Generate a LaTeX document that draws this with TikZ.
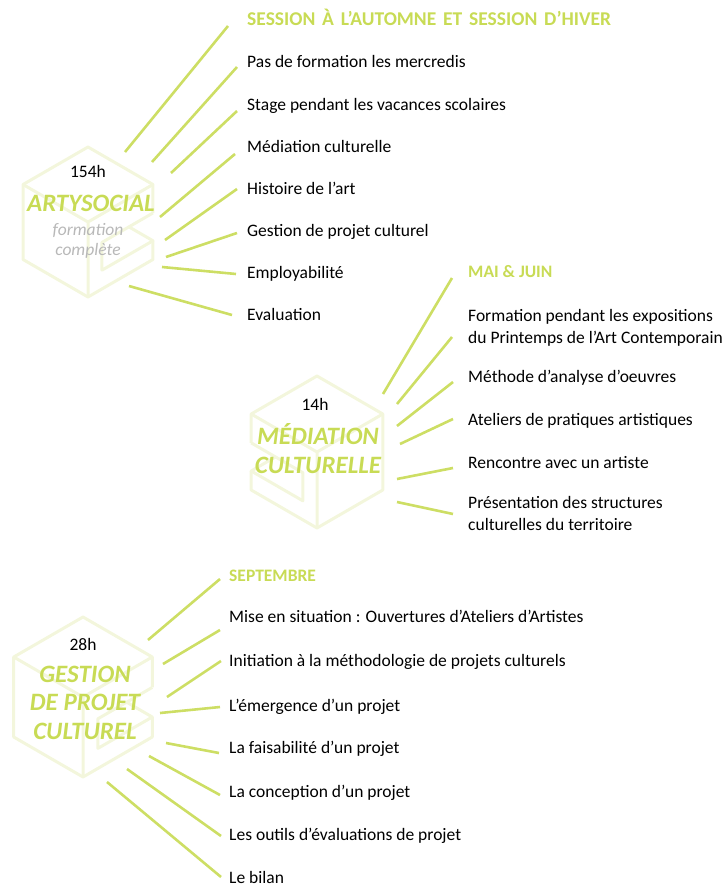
\documentclass[tikz,border=0pt]{standalone}
\usepackage{fontspec}
\setmainfont{Carlito}
\usetikzlibrary{calc}

\definecolor{raygreen}{HTML}{CDDE64}
\definecolor{titlegreen}{HTML}{C8DB55}
\definecolor{hexpale}{HTML}{F3F6DC}
\definecolor{softgray}{HTML}{B8B8B8}

\newcommand{\widespaces}{\spaceskip=6.8pt\relax}

% pale cube with a slot in one face
\newcommand{\logocube}[1]{%
  \begin{scope}[#1]
    \draw[hexline] (0.866,-0.12) -- (0.866,-0.5) -- (0,-1) -- (-0.866,-0.5)
      -- (-0.866,0.5) -- (0,1) -- (0.866,0.5) -- (0.866,0.25);
    \draw[hexline] (-0.866,-0.5) -- (0,0) -- (0.866,-0.5) (0,0) -- (0,1);
    \draw[hexline] (0.866,-0.12) -- (0.186,0.2725) -- (0.186,0.6425)
      -- (0.866,0.25) -- (0.546,0.065);
  \end{scope}}

\begin{document}
\begin{tikzpicture}[x=1pt,y=-1pt,
    hexline/.style={hexpale,line width=3pt,line join=round},
    ray/.style={raygreen,line width=2.6pt},
    item/.style={anchor=base west,inner sep=0pt,align=left,
        font=\fontsize{17.5}{21.5}\selectfont},
    head/.style={item,titlegreen,font=\fontsize{17.5}{21.5}\selectfont\bfseries},
    hours/.style={anchor=base,inner sep=0pt,font=\fontsize{17.5}{21}\selectfont},
    title/.style={anchor=base,inner sep=0pt,align=center,titlegreen,
        font=\fontsize{25}{28.5}\selectfont\bfseries\itshape},
    sub/.style={anchor=base,inner sep=0pt,align=center,softgray,
        font=\fontsize{17.5}{20}\selectfont\itshape}]
    \useasboundingbox (0,0) rectangle (726,886);

    % cubes
    \logocube{xshift=88pt,yshift=-222pt,x=75pt,y=-75pt}
    \logocube{xshift=317pt,yshift=-452pt,x=-76pt,y=-76pt}
    \logocube{xshift=83pt,yshift=-697pt,x=80pt,y=-80pt}

    % multi-line nodes sit on their last baseline
    \node[hours] (h1) at (88,177) {154h};
    \node[title] (t1) at (91,211) {ARTYSOCIAL};
    \node[sub] (f1) at (88,255) {formation\\complète};

    \node[hours] (h2) at (315,410) {14h};
    \node[title] (t2) at (318,473) {MÉDIATION\\CULTURELLE};

    \node[hours] (h3) at (83,650) {28h};
    \node[title] (t3) at (85,739) {GESTION\\DE PROJET\\CULTUREL};

    % artysocial
    \node[head,font=\fontsize{19.5}{22}\selectfont\bfseries]
        (s1) at (247,25) {\widespaces SESSION À L’AUTOMNE ET SESSION D’HIVER};
    \node[item] (s2) at (247,67) {Pas de formation les mercredis};
    \node[item] (s3) at (247,110) {Stage pendant les vacances scolaires};
    \node[item] (s4) at (247,152) {Médiation culturelle};
    \node[item] (s5) at (247,194) {Histoire de l’art};
    \node[item] (s6) at (247,236) {Gestion de projet culturel};
    \node[item] (s7) at (247,278) {Employabilité};
    \node[item] (s8) at (247,320) {Evaluation};

    % mediation
    \node[head] (m1) at (468,277) {MAI \& JUIN};
    \node[item] (m2) at (468,343) {Formation pendant les expositions\\du Printemps de l’Art Contemporain};
    \node[item] (m3) at (468,382) {Méthode d’analyse d’oeuvres};
    \node[item] (m4) at (468,425) {Ateliers de pratiques artistiques};
    \node[item] (m5) at (468,468) {Rencontre avec un artiste};
    \node[item] (m6) at (468,530) {Présentation des structures\\culturelles du territoire};

    % gestion de projet
    \node[head] (p1) at (229,581) {SEPTEMBRE};
    \node[item] (p2) at (229,622) {Mise en situation : Ouvertures d’Ateliers d’Artistes};
    \node[item] (p3) at (229,666) {Initiation à la méthodologie de projets culturels};
    \node[item] (p4) at (229,711) {L’émergence d’un projet};
    \node[item] (p5) at (229,753) {La faisabilité d’un projet};
    \node[item] (p6) at (229,797) {La conception d’un projet};
    \node[item] (p7) at (229,840) {Les outils d’évaluations de projet};
    \node[item] (p8) at (229,883) {Le bilan};

    % rays
    \foreach \n/\x/\y/\dx/\dy in {s1/125/152/19/1, s2/152/162/10/0,
        s3/171/173/10/1, s4/160/217/12/2, s5/165/240/10/-5,
        s6/166/257/10/-3, s7/162/267/11/-4, s8/129/286/15/-5,
        m1/383/394/16/1, m2/397/404/16/-6, m3/397/426/15/0,
        m4/400/444/15/-6, m5/397/479/15/0, m6/397/502/15/-16,
        p1/148/640/9/-2, p2/163/664/9/8, p3/167/697/8/-5,
        p4/160/713/9/-4, p5/166/743/10/0, p6/149/756/9/-2,
        p7/127/769/8/-4, p8/107/782/8/-6}
      \draw[ray] (\x,\y) coordinate (r-\n) -- ($(\n.base west)+(-\dx,\dy)$);
\end{tikzpicture}
\end{document}
